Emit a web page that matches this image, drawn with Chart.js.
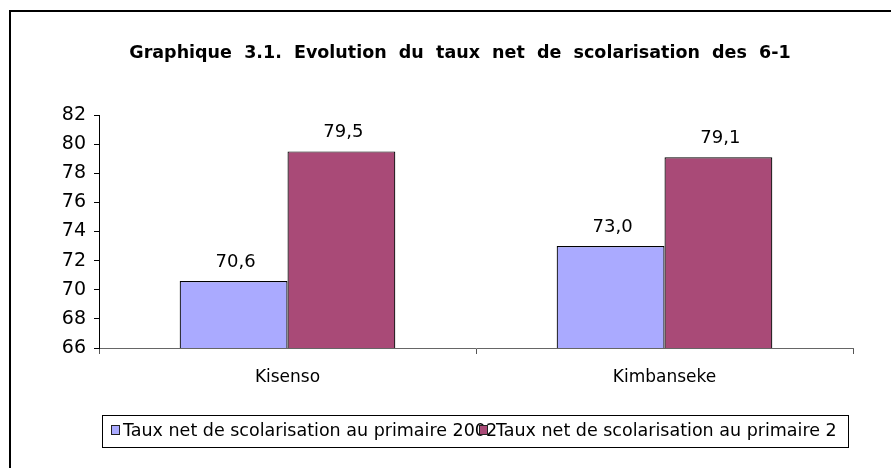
<!DOCTYPE html>
<html>
<head>
<meta charset="utf-8">
<script src="https://cdn.jsdelivr.net/npm/chart.js@4/dist/chart.umd.min.js"></script>
<style>
  html, body { margin: 0; padding: 0; background: #fff; }
  #wrap { width: 891px; height: 468px; position: relative; }
</style>
</head>
<body>
<div id="wrap"><canvas id="c" width="891" height="468"></canvas></div>
<script>
// ── Daten ───────────────────────────────────────────────────────────────────
const TITLE = 'Graphique  3.1.  Evolution  du  taux  net  de  scolarisation  des  6-1';
const CATEGORIES = ['Kisenso', 'Kimbanseke'];
const LABELS = ['Taux net de scolarisation au primaire 2002',
                'Taux net de scolarisation au primaire 2'];
const TAUX_A = [70.6, 73.0];
const TAUX_B = [79.5, 79.1];
const Y_MIN = 66, Y_MAX = 82, Y_STEP = 2;

const COLORS = ['#aaaaff', '#a94a77'];
const FONT = 'DejaVu Sans';

// Rahmen, Titel, Werte und Legende selbst zeichnen: die Legende im Original
// ueberlappt (Eintrag 2 liegt ueber dem Ende von Eintrag 1).
const decor = {
  id: 'decor',
  beforeDraw(ch) {
    const { ctx } = ch;
    ctx.save();
    ctx.fillStyle = '#fff';
    ctx.fillRect(0, 0, ch.width, ch.height);
    ctx.strokeStyle = '#000';
    ctx.lineWidth = 2;
    ctx.beginPath();
    ctx.moveTo(10, ch.height + 5); ctx.lineTo(10, 11); ctx.lineTo(ch.width + 5, 11);
    ctx.stroke();
    ctx.fillStyle = '#000';
    ctx.font = 'bold 17.5px ' + FONT;
    ctx.textAlign = 'center';
    ctx.textBaseline = 'middle';
    ctx.fillText(TITLE, 460, 53);
    ctx.restore();
  },
  afterDatasetsDraw(ch) {
    const { ctx } = ch;
    ctx.save();
    ctx.fillStyle = '#000';
    ctx.font = '18px ' + FONT;
    ctx.textAlign = 'center';
    ctx.textBaseline = 'bottom';
    ch.data.datasets.forEach((ds, i) => {
      ch.getDatasetMeta(i).data.forEach((el, j) => {
        ctx.fillText(ds.data[j].toFixed(1).replace('.', ','), el.x + 2, el.y - 10);
      });
    });
    ctx.restore();
  },
  afterDraw(ch) {
    const { ctx } = ch;
    const box = { l: 102.5, t: 415.5, r: 848.5, b: 447.5 };
    ctx.save();
    ctx.strokeStyle = '#000';
    ctx.lineWidth = 1;
    ctx.strokeRect(box.l, box.t, box.r - box.l, box.b - box.t);
    ctx.beginPath();
    ctx.rect(box.l, box.t, box.r - box.l, box.b - box.t);
    ctx.clip();
    ctx.font = '17.5px ' + FONT;
    ctx.textBaseline = 'middle';
    ctx.textAlign = 'left';
    const items = [[111, 12], [479, 17]];
    ch.data.datasets.forEach((ds, i) => {
      const [x, gap] = items[i];
      ctx.fillStyle = '#000';
      ctx.fillText(ds.label, x + gap, 431);
      ctx.fillStyle = ds.backgroundColor;
      ctx.fillRect(x, 425, 8, 9);
      ctx.strokeStyle = '#222';
      ctx.strokeRect(x + 0.5, 425.5, 8, 9);
    });
    ctx.restore();
  },
};

new Chart(document.getElementById('c'), {
  type: 'bar',
  data: {
    labels: CATEGORIES,
    datasets: [
      { label: LABELS[0], data: TAUX_A, backgroundColor: COLORS[0],
        borderColor: '#000', borderWidth: 1.2 },
      { label: LABELS[1], data: TAUX_B, backgroundColor: COLORS[1],
        borderColor: '#000', borderWidth: 1.2 },
    ],
  },
  options: {
    responsive: false, animation: false,
    devicePixelRatio: 1,
    datasets: { bar: { categoryPercentage: 0.572, barPercentage: 1.0 } },
    layout: { padding: { top: 115, right: 38, left: 0, bottom: 0 } },
    scales: {
      x: {
        afterFit(s) { s.height = 120; },
        grid: { drawOnChartArea: false, offset: true, tickLength: 6, color: '#555' },
        border: { color: '#666', width: 1 },
        ticks: { color: '#000', font: { family: FONT, size: 17 }, padding: 13 },
      },
      y: {
        min: Y_MIN, max: Y_MAX,
        afterFit(s) { s.width = 99; },
        grid: { drawOnChartArea: false, tickLength: 5, color: '#000' },
        border: { color: '#000', width: 1 },
        ticks: { stepSize: Y_STEP, color: '#000', font: { family: FONT, size: 19 }, padding: 8 },
      },
    },
    plugins: {
      legend: { display: false },
      title: { display: false },
      tooltip: { enabled: false },
    },
  },
  plugins: [decor],
});
</script>
</body>
</html>
